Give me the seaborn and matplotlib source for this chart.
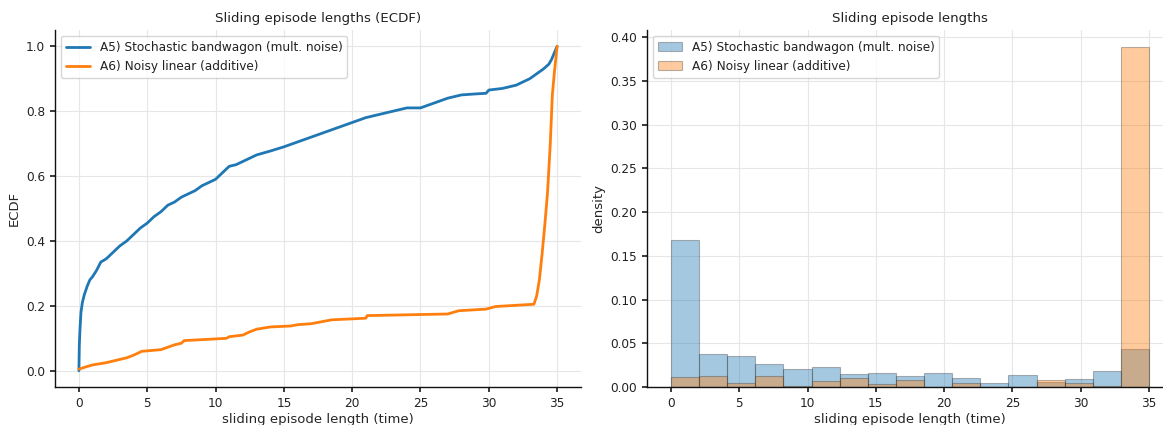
#!/usr/bin/env python3
"""
Sliding episode lengths: ECDF + density histogram (A5 vs A6)
"""

import matplotlib
matplotlib.use("Agg")
import matplotlib.pyplot as plt
import numpy as np
import pandas as pd
import seaborn as sns

# ── Data ──
series_names = [
    "A5) Stochastic bandwagon (mult. noise)",
    "A6) Noisy linear (additive)",
]

# ECDF curves: (x, ECDF) points
a5_ecdf_x = [0.0, 0.03, 0.08, 0.15, 0.25, 0.4, 0.6, 0.8, 1.0, 1.3, 1.6, 2.0, 2.5, 3.0,
             3.5, 4.0, 4.5, 5.0, 5.5, 6.0, 6.5, 7.0, 7.5, 8.0, 8.5, 9.0, 9.5, 10.0,
             10.5, 11.0, 11.5, 12.0, 12.5, 13.0, 14.0, 15.0, 16.0, 17.0, 18.0, 19.0,
             20.0, 21.0, 22.0, 23.0, 24.0, 25.0, 26.0, 27.0, 28.0, 29.0, 29.8, 30.0,
             31.0, 32.0, 33.0, 34.0, 34.4, 34.6, 34.8, 35.0]
a5_ecdf_y = [0.0, 0.08, 0.13, 0.18, 0.21, 0.235, 0.26, 0.28, 0.29, 0.31, 0.335, 0.345,
             0.365, 0.385, 0.40, 0.42, 0.44, 0.455, 0.475, 0.49, 0.51, 0.52, 0.535,
             0.545, 0.555, 0.57, 0.58, 0.59, 0.61, 0.63, 0.635, 0.645, 0.655, 0.665,
             0.677, 0.69, 0.705, 0.72, 0.735, 0.75, 0.765, 0.78, 0.79, 0.80, 0.81,
             0.81, 0.825, 0.84, 0.85, 0.853, 0.855, 0.865, 0.87, 0.88, 0.90, 0.93,
             0.945, 0.96, 0.98, 1.0]

a6_ecdf_x = [0.0, 0.5, 1.0, 2.0, 3.0, 3.5, 4.0, 4.6, 6.0, 7.0, 7.5, 7.7, 10.8, 11.0,
             12.0, 12.5, 13.0, 14.0, 15.5, 16.0, 17.0, 18.5, 20.0, 21.0, 21.1, 27.0,
             27.8, 29.8, 30.5, 33.3, 33.5, 33.7, 33.9, 34.1, 34.3, 34.5, 34.65, 34.8,
             35.0]
a6_ecdf_y = [0.005, 0.012, 0.018, 0.025, 0.035, 0.04, 0.048, 0.06, 0.065, 0.08, 0.085,
             0.093, 0.10, 0.105, 0.11, 0.12, 0.128, 0.135, 0.138, 0.142, 0.145, 0.157,
             0.16, 0.162, 0.17, 0.175, 0.185, 0.19, 0.198, 0.205, 0.23, 0.28, 0.36,
             0.45, 0.55, 0.70, 0.85, 0.92, 1.0]

# Histogram: 17 equal bins over [0, 35], density per bin
hist_range = (0.0, 35.0)
n_bins = 17
a5_density = [0.168, 0.038, 0.036, 0.026, 0.021, 0.023, 0.015, 0.016, 0.013, 0.016,
              0.010, 0.005, 0.014, 0.006, 0.009, 0.018, 0.043]
a6_density = [0.011, 0.013, 0.005, 0.013, 0.001, 0.007, 0.010, 0.004, 0.008, 0.0,
              0.005, 0.0, 0.0, 0.008, 0.005, 0.001, 0.389]

xlabel = "sliding episode length (time)"

# ── Style ──
sns.set_theme(style="ticks")
plt.rcParams.update({
    "font.family": ["DejaVu Sans"],
    "font.size": 8.7,
    "axes.titlesize": 9.6,
    "axes.labelsize": 9.5,
    "xtick.labelsize": 8.7,
    "ytick.labelsize": 8.7,
    "legend.fontsize": 8.7,
    "axes.edgecolor": "#111111",
    "axes.linewidth": 1.0,
    "xtick.major.size": 3.5,
    "ytick.major.size": 3.5,
    "text.color": "#222222",
    "xtick.color": "#222222",
    "ytick.color": "#222222",
})

colors = ["#1f77b4", "#ff7f0e"]

fig = plt.figure(figsize=(11.63, 4.25), dpi=100)
ax1 = fig.add_axes([0.0473, 0.0894, 0.4523, 0.84])
ax2 = fig.add_axes([0.5563, 0.0894, 0.4523, 0.84])

# ── Left: ECDF ──
for xs, ys, name, c in [(a5_ecdf_x, a5_ecdf_y, series_names[0], colors[0]),
                        (a6_ecdf_x, a6_ecdf_y, series_names[1], colors[1])]:
    sns.lineplot(x=xs, y=ys, ax=ax1, color=c, linewidth=2, label=name,
                 estimator=None, sort=False)
ax1.set_title("Sliding episode lengths (ECDF)", pad=6)
ax1.set_xlabel(xlabel, labelpad=2)
ax1.set_ylabel("ECDF", labelpad=4)
ax1.set_xticks(range(0, 36, 5))
ax1.set_yticks(np.round(np.arange(0, 1.01, 0.2), 1))
ax1.legend(loc="upper left", frameon=True, fancybox=True)

# ── Right: density histogram ──
bin_w = (hist_range[1] - hist_range[0]) / n_bins
centers = hist_range[0] + bin_w * (np.arange(n_bins) + 0.5)
for dens, name, c in [(a5_density, series_names[0], colors[0]),
                      (a6_density, series_names[1], colors[1])]:
    df = pd.DataFrame({"x": centers, "w": dens})
    sns.histplot(data=df, x="x", weights="w", bins=n_bins, binrange=hist_range,
                 stat="count", ax=ax2, color=c, alpha=0.4,
                 edgecolor=(0.2, 0.2, 0.2, 0.35), linewidth=0.8, label=name)
ax2.set_title("Sliding episode lengths", pad=6)
ax2.set_xlabel(xlabel, labelpad=2)
ax2.set_ylabel("density", labelpad=4)
ax2.set_xticks(range(0, 36, 5))
ax2.set_yticks(np.round(np.arange(0, 0.41, 0.05), 2))
ax2.yaxis.set_major_formatter(matplotlib.ticker.FormatStrFormatter("%.2f"))
ax2.legend(loc="upper left", frameon=True, fancybox=True)

for ax in (ax1, ax2):
    ax.grid(True, color="#e6e6e6", linewidth=0.8)
    ax.set_axisbelow(True)
    sns.despine(ax=ax)

plt.savefig("out.png", dpi=100, facecolor="white")
